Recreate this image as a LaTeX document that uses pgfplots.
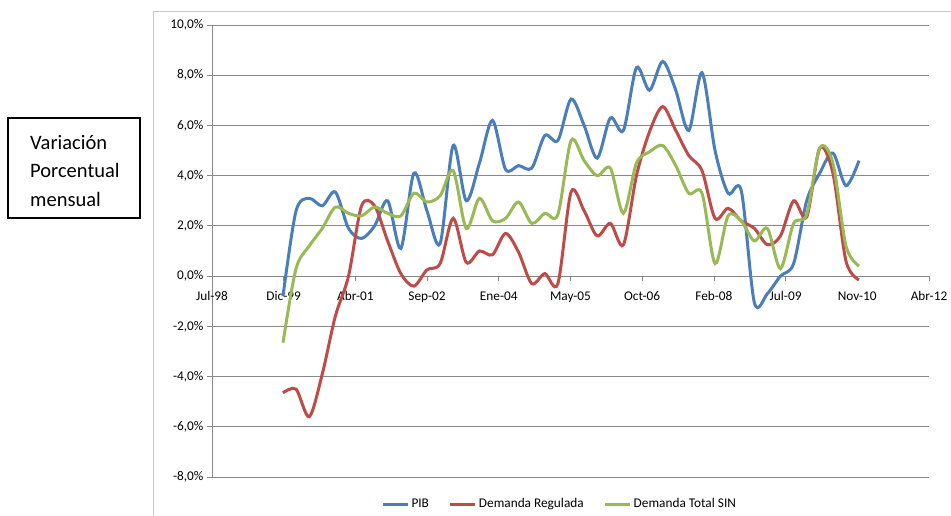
\documentclass[border=0pt]{standalone}
\usepackage{pgfplots}
\pgfplotsset{compat=1.18}
\usepackage{pgfplotstable}
\usepackage{fontspec}
\setmainfont{Carlito}
\definecolor{pib}{HTML}{4A7EBB}
\definecolor{reg}{HTML}{BE4B48}
\definecolor{sin}{HTML}{98B954}
\definecolor{gridc}{HTML}{878787}
\pgfplotstableread{
x    pib   reg    sin
495  -0.8  -4.65  -2.65
586   2.6  -4.5    0.3
678   3.1  -5.6    1.2
769   2.8  -3.9    1.9
860   3.35 -1.6    2.75
952   1.9   0.0    2.5
1043  1.5   2.8    2.4
1134  2.0   2.8    2.75
1225  3.0   1.4    2.5
1317  1.1   0.1    2.4
1408  4.1  -0.4    3.3
1499  2.6   0.25   2.95
1591  1.3   0.5    3.2
1682  5.2   2.3    4.2
1773  3.0   0.55   1.9
1865  4.5   1.0    3.1
1956  6.2   0.85   2.2
2047  4.25  1.7    2.3
2138  4.4   0.95   2.95
2230  4.3  -0.3    2.1
2321  5.6   0.1    2.5
2412  5.4  -0.3    2.45
2504  7.05  3.35   5.4
2595  6.0   2.6    4.6
2686  4.7   1.6    4.0
2778  6.3   2.1    4.3
2869  5.8   1.25   2.5
2960  8.3   4.0    4.5
3051  7.4   5.75   4.95
3143  8.55  6.75   5.2
3234  7.4   5.8    4.4
3325  5.8   4.8    3.3
3417  8.1   4.2    3.3
3508  5.0   2.3    0.5
3599  3.3   2.7    2.4
3691  3.4   2.2    2.2
3782 -1.05  1.9    1.4
3873 -0.7   1.25   1.9
3964  0.0   1.6    0.3
4056  0.5   3.0    2.1
4147  3.0   2.35   2.45
4238  4.1   5.1    5.1
4330  4.9   4.1    4.5
4421  3.6   0.6    1.2
4512  4.6  -0.15   0.4
}\data
\begin{document}
\begin{tikzpicture}[x=1pt,y=1pt]
\path[use as bounding box] (0,0) rectangle (951,515);
\draw[color=gray!45, line width=1pt] (153,-5) -- (153,503) -- (960,503);
\draw[line width=1.2pt] (8,297) rectangle (140,397);
\node[anchor=base west, align=left, font=\fontsize{20.5}{29}\selectfont, inner sep=0pt] at (30,308) {Variación\\Porcentual\\mensual};
\begin{axis}[at={(212pt,38pt)}, anchor=south west, scale only axis,
  width=717pt, height=452pt,
  xmin=0, xmax=5000, ymin=-8, ymax=10,
  axis x line=middle, axis y line=left,
  axis line style={gridc, line width=0.8pt, -},
  xtick={0,500,...,5000},
  xticklabels={Jul-98,Dic-99,Abr-01,Sep-02,Ene-04,May-05,Oct-06,Feb-08,Jul-09,Nov-10,Abr-12},
  ytick={-8,-6,...,10},
  yticklabels={{-8,0\%},{-6,0\%},{-4,0\%},{-2,0\%},{0,0\%},{2,0\%},{4,0\%},{6,0\%},{8,0\%},{10,0\%}},
  ymajorgrids, grid style={gridc, line width=0.8pt},
  tick align=outside, major tick length=5pt, tick style={gridc, line width=0.8pt},
  hide obscured x ticks=false, hide obscured y ticks=false,
  tick label style={font=\fontsize{13.3}{16}\selectfont, text=black},
  xticklabel style={yshift=-7pt},
  clip=false,
  legend style={at={(0.485,-0.06)}, anchor=center, draw=none, legend columns=3,
    font=\fontsize{13.3}{16}\selectfont,
    /tikz/every even column/.append style={column sep=18pt}},
  legend image code/.code={\draw[#1] (0pt,0pt) -- (25pt,0pt);},
]
\addplot[pib, line width=3pt, smooth] table[x=x,y=pib]{\data};
\addlegendentry{PIB}
\addplot[reg, line width=3pt, smooth] table[x=x,y=reg]{\data};
\addlegendentry{Demanda Regulada}
\addplot[sin, line width=3pt, smooth] table[x=x,y=sin]{\data};
\addlegendentry{Demanda Total SIN}
\end{axis}
\end{tikzpicture}
\end{document}
